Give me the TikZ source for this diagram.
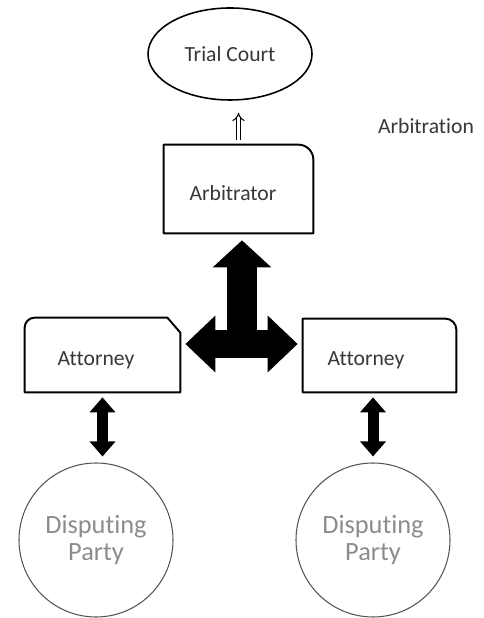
\documentclass[tikz,border=0pt]{standalone}
\usepackage{fontspec}
\setmainfont{Carlito}[Ligatures={NoCommon}]
\definecolor{inkgray}{RGB}{55,55,55}
\definecolor{partygray}{RGB}{140,140,140}
\definecolor{ringgray}{RGB}{85,85,85}
\usetikzlibrary{shapes.geometric, arrows.meta, positioning, calc}

\begin{document}
\begin{tikzpicture}[
  boxlabel/.style={font=\fontsize{12.3}{14}\selectfont, text=inkgray},
  boxframe/.style={minimum width=3cm, minimum height=1.5cm, inner sep=0pt},
  outline/.style={line width=1.1pt, line join=round},
  partynode/.style={draw=ringgray, line width=0.6pt, circle, minimum size=3.08cm, inner sep=0pt, align=center, font=\fontsize{15}{15.4}\selectfont, text=partygray},
  bigvert/.style={line width=0.6cm, -{Triangle[length=0.54cm, width=1.14cm]}},
  bighoriz/.style={line width=0.56cm, {Triangle[length=0.6cm, width=1.1cm]}-{Triangle[length=0.6cm, width=1.1cm]}},
  smallarrow/.style={line width=0.22cm, {Triangle[length=0.3cm, width=0.5cm]}-{Triangle[length=0.3cm, width=0.5cm]}},
]
  \useasboundingbox (0,0) rectangle (9.66,12.36);

  % top of the chain
  \node[draw, ellipse, line width=0.9pt, minimum width=3.28cm, minimum height=1.84cm, boxlabel] (court) at (4.60, 11.28) {Trial Court};
  \node[boxlabel] (title) at (8.52, 9.84) {Arbitration};

  \node[boxframe, minimum width=2.98cm, minimum height=1.76cm] (arb) at (4.77, 8.58) {};
  \draw[outline] (arb.south west) -- (arb.north west) -- ([xshift=-0.3cm]arb.north east)
    arc[start angle=90, end angle=0, radius=0.3cm] -- (arb.south east) -- cycle;
  \node[boxlabel] (arb-t) at (4.66, 8.5) {Arbitrator};

  % attorneys
  \node[boxframe, minimum width=3.10cm, minimum height=1.48cm] (latt) at (2.05, 5.26) {};
  \draw[outline] (latt.south west) -- ([yshift=-0.2cm]latt.north west)
    arc[start angle=180, end angle=90, radius=0.2cm] -- ([xshift=-0.26cm]latt.north east)
    -- ([yshift=-0.3cm]latt.north east) -- (latt.south east) -- cycle;
  \node[boxlabel] (latt-t) at (1.92, 5.16) {Attorney};

  \node[boxframe, minimum width=3.06cm, minimum height=1.46cm] (ratt) at (7.59, 5.25) {};
  \draw[outline] (ratt.south west) -- (ratt.north west) -- ([xshift=-0.22cm]ratt.north east)
    arc[start angle=90, end angle=0, radius=0.22cm] -- (ratt.south east) -- cycle;
  \node[boxlabel] (ratt-t) at (7.32, 5.16) {Attorney};

  % parties
  \node[partynode] (lpty) at (1.92, 1.56) {Disputing\\Party};
  \node[partynode] (rpty) at (7.46, 1.56) {Disputing\\Party};

  % connectors
  \coordinate (hub) at (4.84, 5.48);
  \draw[bigvert, shorten >=0.14cm] (hub) -- (hub |- arb.south);
  \draw[bighoriz, shorten <=0.1cm, shorten >=0.1cm] (hub -| latt.east) -- (hub -| ratt.west);

  \draw[smallarrow, shorten <=0.1cm, shorten >=0.12cm] (latt.south) -- (latt.south |- lpty.north);
  \draw[smallarrow, shorten <=0.1cm, shorten >=0.12cm] (rpty.north |- ratt.south) -- (rpty.north);

  \draw[double, double distance=1.8pt, line width=0.6pt, -{Implies}, shorten <=0.1cm, shorten >=0.24cm] (arb.north) -- (arb.north |- court.south);
\end{tikzpicture}
\end{document}
